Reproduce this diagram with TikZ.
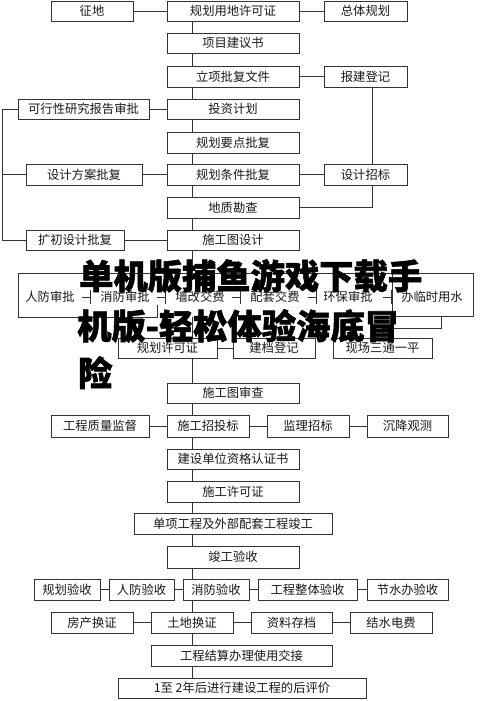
\documentclass[tikz,border=0pt]{standalone}
\usepackage{fontspec}
\setmainfont{Noto Sans CJK SC}
\newfontfamily\wmfont{Noto Sans CJK SC}[BoldFeatures={FakeBold=1.6}]
\tikzset{
  box/.style={draw=black!80, fill=white, line width=0.7pt, inner sep=0pt,
    font=\fontsize{12.3}{14}\selectfont, text=black!90},
  lbl/.style={inner sep=0pt, font=\fontsize{12.3}{14}\selectfont, text=black!90},
  ln/.style={draw=black!80, line width=0.7pt},
  wm/.style={inner sep=0pt, font=\wmfont\bfseries\fontsize{34.3}{36}\selectfont, text=black}
}
\newcommand\flowbox[6]{\node[box, minimum width={#4pt-#2pt}, minimum height={#5pt-#3pt}] (#1) at ({(#2+#4)/2},{(#3+#5)/2}) {#6};}
\begin{document}
\begin{tikzpicture}[x=1pt,y=-1pt]
\useasboundingbox (0,0) rectangle (500,701);
\coordinate (sp) at (192,0);
\coordinate (bus) at (2,0);
\coordinate (rb) at (372,0);
\coordinate (k1) at (441,328);
% spine
\draw[ln] (sp |- 0,21) -- (sp |- 0,678);
% boxes
\flowbox{zd}{51}{1}{133}{21}{征地}
\flowbox{ghyd}{167}{1}{299}{21}{规划用地许可证}
\flowbox{ztgh}{324}{1}{407}{21}{总体规划}
\flowbox{xmjy}{167}{33}{299}{53}{项目建议书}
\flowbox{lx}{167}{66}{299}{87}{立项批复文件}
\flowbox{bj}{324}{66}{407}{87}{报建登记}
\flowbox{tz}{167}{99}{299}{119}{投资计划}
\flowbox{kx}{18}{99}{149}{119}{可行性研究报告审批}
\flowbox{yd}{167}{132}{299}{153}{规划要点批复}
\flowbox{tj}{167}{164}{299}{185}{规划条件批复}
\flowbox{fa}{26}{164}{142}{185}{设计方案批复}
\flowbox{zb}{324}{164}{407}{185}{设计招标}
\flowbox{dz}{167}{197}{299}{218}{地质勘查}
\flowbox{kc}{26}{230}{124}{250}{扩初设计批复}
\flowbox{sgt}{167}{230}{299}{250}{施工图设计}
% middle row
\fill[white] (18,273) rectangle (392,317);
\draw[ln] (157,305) -- (157,317) -- (18,317) -- (18,273) -- (392,273);
\flowbox{lsy}{392}{273}{473}{316}{}
\node[lbl] (rf) at (50,297) {人防审批};
\node[lbl] (xf) at (125,297) {消防审批};
\node[lbl] (qg) at (200,297) {墙改交费};
\node[lbl] (pt) at (275,297) {配套交费};
\node[lbl] (hb) at (348,297) {环保审批};
\node[lbl] (bl) at (432,297) {办临时用水};
\foreach \a/\b in {82/90,157/165,232/240,308/316,383/391}{
  \draw[ln] (\a,297) -- (\b,297) (\b,290) -- (\b,304);
}
\flowbox{ghxk}{118}{338}{217}{358}{规划许可证}
\flowbox{jd}{233}{338}{315}{358}{建档登记}
\flowbox{xc}{333}{338}{432}{358}{现场三通一平}
\flowbox{sgsc}{167}{383}{299}{403}{施工图审查}
\flowbox{zl}{51}{415}{149}{437}{工程质量监督}
\flowbox{zt}{167}{415}{249}{437}{施工招投标}
\flowbox{jl}{267}{415}{349}{437}{监理招标}
\flowbox{cj}{367}{415}{448}{437}{沉降观测}
\flowbox{zg}{167}{449}{299}{469}{建设单位资格认证书}
\flowbox{xk}{167}{481}{299}{502}{施工许可证}
\flowbox{dx}{134}{513}{332}{534}{单项工程及外部配套工程竣工}
\flowbox{jg}{167}{546}{299}{568}{竣工验收}
\flowbox{ghys}{34}{579}{100}{600}{规划验收}
\flowbox{rfys}{109}{579}{174}{600}{人防验收}
\flowbox{xfys}{183}{579}{249}{600}{消防验收}
\flowbox{ztys}{258}{579}{357}{600}{工程整体验收}
\flowbox{jsys}{367}{579}{448}{600}{节水办验收}
\flowbox{fc}{51}{612}{133}{633}{房产换证}
\flowbox{td}{151}{612}{233}{633}{土地换证}
\flowbox{zlcd}{251}{612}{332}{633}{资料存档}
\flowbox{jsdf}{350}{612}{432}{633}{结水电费}
\flowbox{jsjj}{151}{645}{332}{666}{工程结算办理使用交接}
\flowbox{hp}{118}{678}{366}{698}{1至 2年后进行建设工程的后评价}
% connectors
\draw[ln] (zd) -- (ghyd);
\draw[ln] (ghyd) -- (ztgh);
\draw[ln] (lx) -- (bj);
\draw[ln] (kx) -- (tz);
\draw[ln] (fa) -- (tj);
\draw[ln] (tj) -- (zb);
\draw[ln] (kc) -- (sgt);
\draw[ln] (bj.south -| rb) -- (zb.north -| rb);
\draw[ln] (zb.south -| rb) |- (dz.east);
\draw[ln] (kx.west) -- (kx.west -| bus) -- (kc.west -| bus) -- (kc.west);
\draw[ln] (fa.west -| bus) -- (fa.west);
\draw[ln] (lsy.south -| k1) -- (k1) -| (xc.north);
\draw[ln] (ghxk) -- (jd);
\draw[ln] (zl) -- (zt);
\draw[ln] (zt) -- (jl);
\draw[ln] (jl) -- (cj);
\draw[ln] (ghys) -- (rfys);
\draw[ln] (rfys) -- (xfys);
\draw[ln] (xfys) -- (ztys);
\draw[ln] (ztys) -- (jsys);
\draw[ln] (fc) -- (td);
\draw[ln] (td) -- (zlcd);
\draw[ln] (zlcd) -- (jsdf);
% overlay text
\node[wm, anchor=base west] (w1) at (79,289) {单机版捕鱼游戏下载手};
\node[wm, anchor=base west] (w2) at (77,339) {机版-轻松体验海底冒};
\node[wm, anchor=base west] (w3) at (78,386) {险};
\end{tikzpicture}
\end{document}
